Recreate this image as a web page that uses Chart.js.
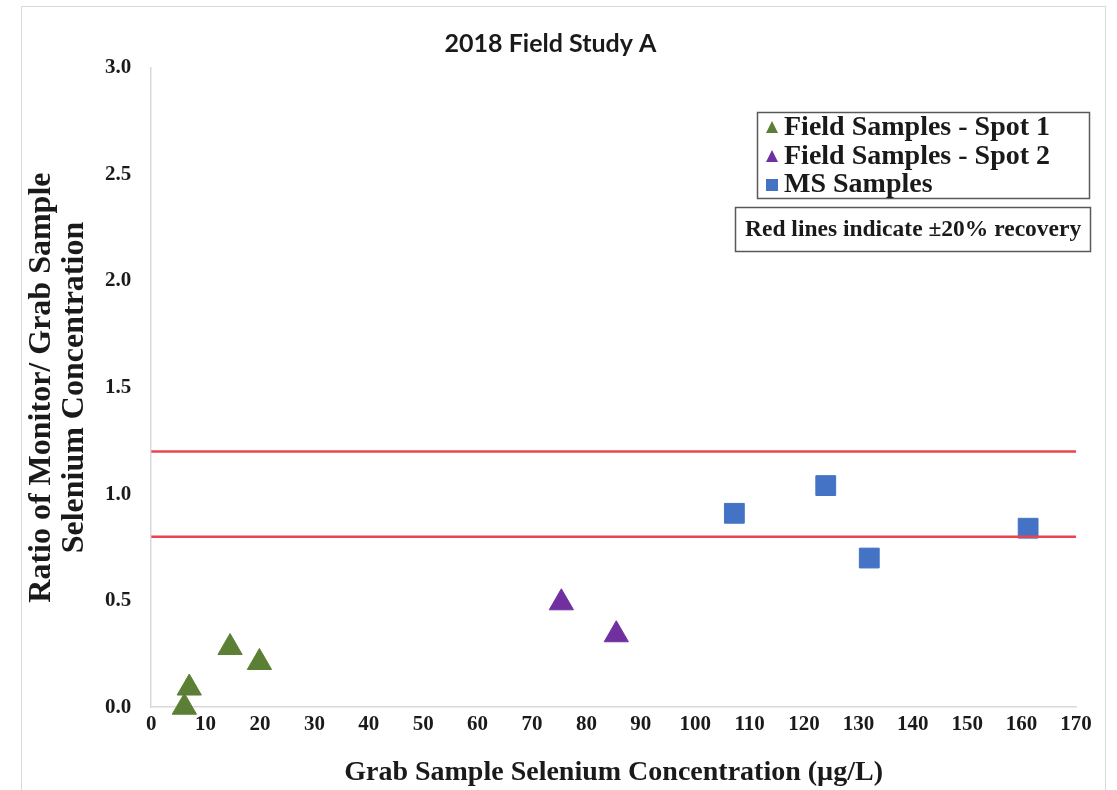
<!DOCTYPE html>
<html>
<head>
<meta charset="utf-8">
<script src="https://cdn.jsdelivr.net/npm/chart.js@4"></script>
<style>
  html, body { margin: 0; padding: 0; background: #fff; }
  #wrap { width: 1117px; height: 790px; position: relative; }
</style>
</head>
<body>
<div id="wrap"><canvas id="seleniumChart" width="1117" height="790"></canvas></div>
<script>
// data
const spot1X = [6.1, 7.0, 14.5, 19.9];
const spot1Y = [0.0, 0.09, 0.28, 0.21];
const spot2X = [75.4, 85.5];
const spot2Y = [0.49, 0.34];
const msX = [107.2, 124.0, 132.0, 161.2];
const msY = [0.91, 1.04, 0.70, 0.84];
const recoveryLimits = [0.8, 1.2];
const xRange = [0, 170];

const seriesNames = ["Field Samples - Spot 1", "Field Samples - Spot 2", "MS Samples"];
const noteText = "Red lines indicate \u00B120% recovery";

const serif = "'Liberation Serif', 'Times New Roman', serif";

function toPoints(xs, ys) {
  return xs.map((x, i) => ({ x: x, y: ys[i] }));
}

// Draws the framed legend and the note box inside the plot
const boxLegend = {
  id: "boxLegend",
  afterDraw(chart) {
    const c = chart.ctx;
    c.save();
    // legend box
    c.strokeStyle = "#595959";
    c.lineWidth = 1.5;
    c.strokeRect(757.5, 112.5, 332, 86);
    c.font = "bold 28px " + serif;
    c.textBaseline = "middle";
    const rows = [127, 156, 184];
    chart.data.datasets.filter((d) => !d.isLimit).forEach((ds, i) => {
      const y = rows[i];
      c.fillStyle = ds.backgroundColor;
      c.beginPath();
      if (ds.pointStyle === "triangle") {
        c.moveTo(772, y - 6);
        c.lineTo(778, y + 6);
        c.lineTo(766, y + 6);
        c.closePath();
      } else {
        c.rect(766, y - 5, 12, 12);
      }
      c.fill();
      c.fillStyle = "#1a1a1a";
      c.fillText(ds.label, 784, y + 1);
    });
    // note box
    c.font = "bold 23.5px " + serif;
    c.strokeRect(735.5, 207.5, 355, 44);
    c.fillText(noteText, 745, 230);
    // outer frame
    c.strokeStyle = "#d9d9d9";
    c.lineWidth = 1;
    c.strokeRect(21.5, 6.5, 1084, 800);
    c.restore();
  },
};

const datasets = [
  {
    label: seriesNames[0],
    data: toPoints(spot1X, spot1Y),
    backgroundColor: "#5b7f34",
    borderColor: "#5b7f34",
    pointStyle: "triangle",
    pointRadius: 14,
    clip: false,
    order: 1,
  },
  {
    label: seriesNames[1],
    data: toPoints(spot2X, spot2Y),
    backgroundColor: "#7030a0",
    borderColor: "#7030a0",
    pointStyle: "triangle",
    pointRadius: 14,
    clip: false,
    order: 1,
  },
  {
    label: seriesNames[2],
    data: toPoints(msX, msY),
    backgroundColor: "#4472c4",
    borderColor: "#4472c4",
    pointStyle: "rect",
    pointRadius: 14,
    clip: false,
    order: 1,
  },
];

recoveryLimits.forEach((lim) => {
  datasets.push({
    type: "line",
    label: "limit " + lim,
    isLimit: true,
    data: xRange.map((x) => ({ x: x, y: lim })),
    borderColor: "#e8454f",
    borderWidth: 2.5,
    pointRadius: 0,
    order: 0,
  });
});

new Chart(document.getElementById("seleniumChart").getContext("2d"), {
  type: "scatter",
  data: { datasets: datasets },
  plugins: [boxLegend],
  options: {
    responsive: false,
    animation: false,
    layout: { padding: { left: 25, right: 41, top: 0, bottom: 0 } },
    plugins: {
      legend: { display: false },
      tooltip: { enabled: false },
      title: {
        display: true,
        text: "2018 Field Study A",
        color: "#1a1a1a",
        font: { family: "Lato, 'Open Sans', sans-serif", size: 25, weight: "bold" },
        padding: { top: 29, bottom: 9 },
      },
    },
    scales: {
      x: {
        type: "linear",
        min: 0,
        max: 170,
        ticks: {
          stepSize: 10,
          color: "#1a1a1a",
          padding: 5,
          font: { family: serif, size: 21, weight: "bold" },
        },
        grid: { display: false, drawTicks: false },
        border: { display: true, color: "#d9d9d9", width: 1.5 },
        title: {
          display: true,
          text: "Grab Sample Selenium Concentration (\u00B5g/L)",
          color: "#1a1a1a",
          font: { family: serif, size: 28, weight: "bold" },
          padding: { top: 14, bottom: 0 },
        },
      },
      y: {
        min: 0,
        max: 3,
        ticks: {
          stepSize: 0.5,
          color: "#1a1a1a",
          padding: 20,
          font: { family: serif, size: 21, weight: "bold" },
          callback: (v) => v.toFixed(1),
        },
        grid: { display: false, drawTicks: false },
        border: { display: true, color: "#d9d9d9", width: 1.5 },
        title: {
          display: true,
          text: ["Ratio of Monitor/ Grab Sample", "Selenium Concentration"],
          color: "#1a1a1a",
          font: { family: serif, size: 32, weight: "bold", lineHeight: 1.03 },
          padding: { top: 0, bottom: -6 },
        },
      },
    },
  },
});
</script>
</body>
</html>
